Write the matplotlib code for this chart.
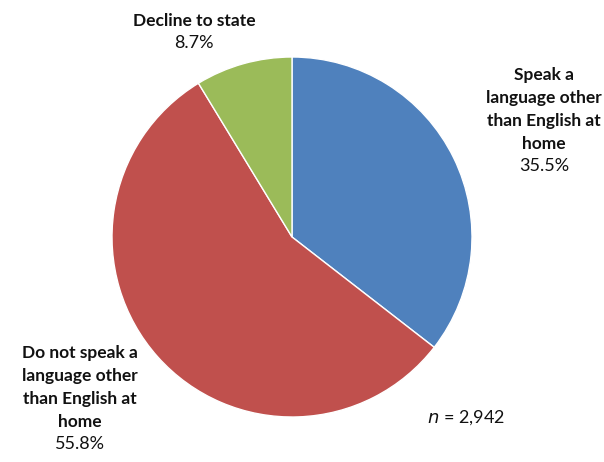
import matplotlib
matplotlib.use("Agg")
import matplotlib.pyplot as plt

labels = [["Speak a", "language other", "than English at", "home"],
          ["Do not speak a", "language other", "than English at", "home"],
          ["Decline to state"]]
values = [35.5, 55.8, 8.7]
colors = ["#4F81BD", "#C0504D", "#9BBB59"]
n_total = "2,942"

W, H = 604, 462
fig = plt.figure(figsize=(W / 100, H / 100), dpi=100)
ax = fig.add_axes([0, 0, 1, 1])
ax.pie(values, colors=colors, startangle=90, counterclock=False,
       center=(292, H - 237), radius=180,
       wedgeprops=dict(edgecolor="white", linewidth=1.0))
ax.set_xlim(0, W)
ax.set_ylim(0, H)
ax.set_aspect("equal")
ax.axis("off")

fam = ["Lato", "DejaVu Sans"]
lab = dict(family=fam, fontsize=12.5, color="#111111", fontweight="bold",
           ha="center", va="center")
pct = dict(family=fam, fontsize=13, color="#111111",
           ha="center", va="center")

# (centre x, first-line y from top)
places = [(544, 75), (80, 353), (194, 21)]
step = 23
for (x, y0), lines, v in zip(places, labels, values):
    for i, line in enumerate(lines):
        ax.text(x, H - (y0 + i * step), line, **lab)
    ax.text(x, H - (y0 + len(lines) * step - 1), f"{v:.1f}%", **pct)

ax.text(427, H - 418, r"$\it{n}$" + f" = {n_total}", family=fam,
        fontsize=13, color="#111111", ha="left", va="center")

fig.savefig("out.png", dpi=100)
